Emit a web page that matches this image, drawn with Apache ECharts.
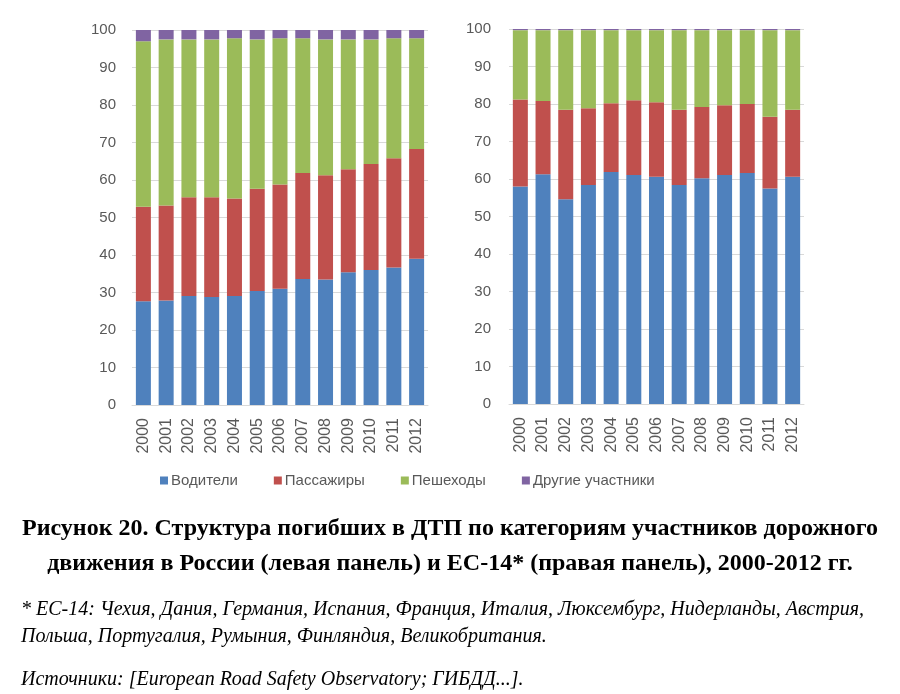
<!DOCTYPE html>
<html><head><meta charset="utf-8">
<script src="https://cdn.jsdelivr.net/npm/echarts@6/dist/echarts.min.js"></script>
<style>html,body{margin:0;padding:0;background:#fff}#c{width:900px;height:694px}</style>
</head><body><div id="c"></div>
<script>
var years = ['2000','2001','2002','2003','2004','2005','2006','2007','2008','2009','2010','2011','2012'];
var seriesNames = ['Водители','Пассажиры','Пешеходы','Другие участники'];
var yTicks = [0,10,20,30,40,50,60,70,80,90,100];
// Россия (левая панель)
var ruDrivers    = [27.7,27.9,29.1,28.8,29.1,30.4,31.0,33.6,33.5,35.4,36.0,36.7,39.0];
var ruPassengers = [25.2,25.3,26.3,26.6,26.0,27.3,27.8,28.3,27.8,27.5,28.3,29.1,29.3];
var ruPedestrians= [44.1,44.3,42.1,42.1,42.7,39.8,39.0,35.9,36.2,34.6,33.2,32.0,29.5];
var ruOthers     = [3.0,2.5,2.5,2.5,2.2,2.5,2.2,2.2,2.5,2.5,2.5,2.2,2.2];
// ЕС-14 (правая панель)
var euDrivers    = [58.0,61.3,54.6,58.4,61.9,61.1,60.6,58.4,60.2,61.1,61.6,57.5,60.6];
var euPassengers = [23.2,19.5,23.9,20.5,18.3,19.9,19.9,20.1,19.0,18.6,18.4,19.1,17.9];
var euPedestrians= [18.5,18.9,21.2,20.8,19.5,18.7,19.2,21.2,20.5,20.0,19.7,23.1,21.2];
var euOthers     = [0.3,0.3,0.3,0.3,0.3,0.3,0.3,0.3,0.3,0.3,0.3,0.3,0.3];

var caption1 = 'Рисунок 20. Структура погибших в ДТП по категориям участников дорожного';
var caption2 = 'движения в России (левая панель) и ЕС-14* (правая панель), 2000-2012 гг.';
var note1 = '* ЕС-14: Чехия, Дания, Германия, Испания, Франция, Италия, Люксембург, Нидерланды, Австрия,';
var note2 = 'Польша, Португалия, Румыния, Финляндия, Великобритания.';
var note3 = 'Источники: [European Road Safety Observatory; ГИБДД...].';

var colors = ['#4F81BD','#C0504D','#9BBB59','#8064A2'];
var axisFont = 'Liberation Sans, Arial, sans-serif';
var txt = '#595959';

function xAxis(i){
  return {type:'category', gridIndex:i, data:years,
    axisLine:{lineStyle:{color:'#D9D9D9',width:1}}, axisTick:{show:false},
    axisLabel:{rotate:90, color:txt, fontSize:16, fontFamily:axisFont, margin:13}};
}
function yAxis(i, margin){
  return {type:'value', gridIndex:i, min:yTicks[0], max:yTicks[yTicks.length-1], interval:10,
    axisLine:{show:false}, axisTick:{show:false},
    splitLine:{lineStyle:{color:'#D9D9D9',width:1}},
    axisLabel:{color:txt, fontSize:15, fontFamily:axisFont, margin:margin}};
}
function bars(data, idx, name, color, stack){
  return {type:'bar', name:name, stack:stack, xAxisIndex:idx, yAxisIndex:idx,
    data:data, barWidth:15, itemStyle:{color:color}};
}
var ru = [ruDrivers, ruPassengers, ruPedestrians, ruOthers];
var eu = [euDrivers, euPassengers, euPedestrians, euOthers];
var series = [];
for (var k=0;k<4;k++){ series.push(bars(ru[k],0,seriesNames[k],colors[k],'ru')); }
for (var k=0;k<4;k++){ series.push(bars(eu[k],1,seriesNames[k],colors[k],'eu')); }

var capFont = 'bold 24px "Liberation Serif", "Times New Roman", serif';
var noteFont = 'italic 20px "Liberation Serif", "Times New Roman", serif';

var chart = echarts.init(document.getElementById('c'), null, {renderer:'canvas'});
chart.setOption({
  animation:false,
  backgroundColor:'#fff',
  grid:[
    {left:132, right:472, top:30, bottom:289, containLabel:false},
    {left:509, right:96, top:29, bottom:290, containLabel:false}
  ],
  xAxis:[xAxis(0), xAxis(1)],
  yAxis:[yAxis(0,16), yAxis(1,18)],
  legend:{data:seriesNames, left:155, top:468, itemWidth:8, itemHeight:8, itemGap:36,
    icon:'rect', textStyle:{color:txt, fontSize:15, fontFamily:axisFont, padding:[0,0,0,-2]}},
  series:series,
  graphic:[
    {type:'text', left:'center', top:517, style:{text:caption1, fill:'#000', font:capFont}},
    {type:'text', left:'center', top:552, style:{text:caption2, fill:'#000', font:capFont}},
    {type:'text', left:21, top:600, style:{text:note1, fill:'#000', font:noteFont}},
    {type:'text', left:21, top:627, style:{text:note2, fill:'#000', font:noteFont}},
    {type:'text', left:21, top:670, style:{text:note3, fill:'#000', font:noteFont}}
  ]
});
</script></body></html>
